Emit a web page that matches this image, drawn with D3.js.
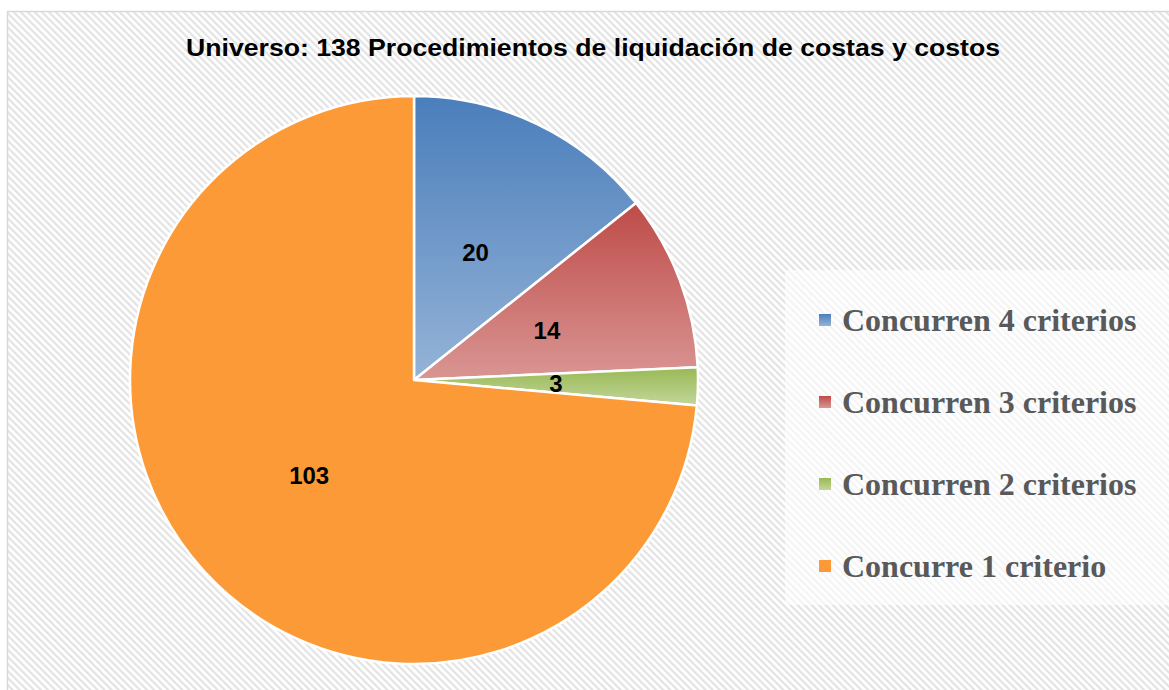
<!DOCTYPE html>
<html lang="es">
<head>
  <meta charset="utf-8">
  <title>Universo: 138 Procedimientos</title>
  <style>
    body { margin: 0; background: #fff; }
    svg { display: block; }
  </style>
  <script src="https://d3js.org/d3.v7.min.js"></script>
</head>
<body>
<script>
    // chart data
    let categories = ['Concurren 4 criterios', 'Concurren 3 criterios', 'Concurren 2 criterios', 'Concurre 1 criterio']
    let values = [20, 14, 3, 103]
    let colorsTop = ['#4a7ebb', '#be4b48', '#98b954', '#fd9a38']
    let colorsBottom = ['#95b3d7', '#d99694', '#c3d69b', '#fd9a38']
    let title = 'Universo: 138 Procedimientos de liquidación de costas y costos'

    let width = 1169
    let height = 690
    let cx = 414
    let cy = 380
    let radius = 284

    let svg = d3.select('body')
                .append('svg')
                .attr('width', width)
                .attr('height', height)

    let defs = svg.append('defs')

    // diagonal hatch background
    let hatch = defs.append('pattern')
        .attr('id', 'hatch')
        .attr('patternUnits', 'userSpaceOnUse')
        .attr('width', 5)
        .attr('height', 5)
        .attr('patternTransform', 'rotate(-45)')
    hatch.append('rect').attr('width', 5).attr('height', 5).attr('fill', '#ffffff')
    hatch.append('rect').attr('width', 2.2).attr('height', 5).attr('fill', '#e3e3e3')

    colorsTop.forEach((c, i) => {
        let g = defs.append('linearGradient')
            .attr('id', 'grad' + i)
            .attr('x1', 0).attr('y1', 0).attr('x2', 0).attr('y2', 1)
        g.append('stop').attr('offset', '0%').attr('stop-color', c)
        g.append('stop').attr('offset', '100%').attr('stop-color', colorsBottom[i])
    })

    svg.append('rect')
        .attr('x', 7.5)
        .attr('y', 11.5)
        .attr('width', width)
        .attr('height', height)
        .attr('fill', 'url(#hatch)')
        .attr('stroke', '#d9d9d9')
        .attr('stroke-width', 1.5)

    svg.append('text')
        .attr('x', 186)
        .attr('y', 56)
        .attr('font-family', 'Liberation Sans, Arial, sans-serif')
        .attr('font-weight', 'bold')
        .attr('font-size', 23)
        .attr('textLength', 814)
        .attr('lengthAdjust', 'spacingAndGlyphs')
        .attr('fill', '#000')
        .text(title)

    // pie
    let pie = d3.pie().sort(null).value(d => d)
    let arc = d3.arc().innerRadius(0).outerRadius(radius)
    let labelArc = d3.arc().innerRadius(radius * 0.5).outerRadius(radius * 0.5)
    let arcs = pie(values)

    let g = svg.append('g').attr('transform', `translate(${cx}, ${cy})`)

    g.selectAll('path')
        .data(arcs)
        .enter()
        .append('path')
        .attr('d', arc)
        .attr('fill', (d, i) => `url(#grad${i})`)
        .attr('stroke', '#ffffff')
        .attr('stroke-width', 2.5)
        .attr('stroke-linejoin', 'round')

    g.selectAll('text.lbl')
        .data(arcs)
        .enter()
        .append('text')
        .attr('class', 'lbl')
        .attr('transform', d => `translate(${labelArc.centroid(d)})`)
        .attr('text-anchor', 'middle')
        .attr('dy', '0.36em')
        .attr('font-family', 'Liberation Sans, Arial, sans-serif')
        .attr('font-weight', 'bold')
        .attr('font-size', 24)
        .attr('fill', '#000')
        .text(d => d.value)

    // legend
    svg.append('rect')
        .attr('x', 785)
        .attr('y', 270)
        .attr('width', width - 785)
        .attr('height', 335)
        .attr('fill', '#ffffff')
        .attr('opacity', 0.6)

    let legendY = d3.scalePoint()
        .domain(categories)
        .range([320, 566])

    let legend = svg.selectAll('g.legend')
        .data(categories)
        .enter()
        .append('g')
        .attr('class', 'legend')
        .attr('transform', d => `translate(819, ${legendY(d)})`)

    legend.append('rect')
        .attr('x', 0)
        .attr('y', -6)
        .attr('width', 12)
        .attr('height', 12)
        .attr('fill', (d, i) => `url(#grad${i})`)

    legend.append('text')
        .attr('x', 23)
        .attr('dy', '0.34em')
        .attr('font-family', 'Liberation Serif, Times New Roman, serif')
        .attr('font-weight', 'bold')
        .attr('font-size', 32)
        .attr('fill', '#595959')
        .text(d => d)
</script>
</body>
</html>
